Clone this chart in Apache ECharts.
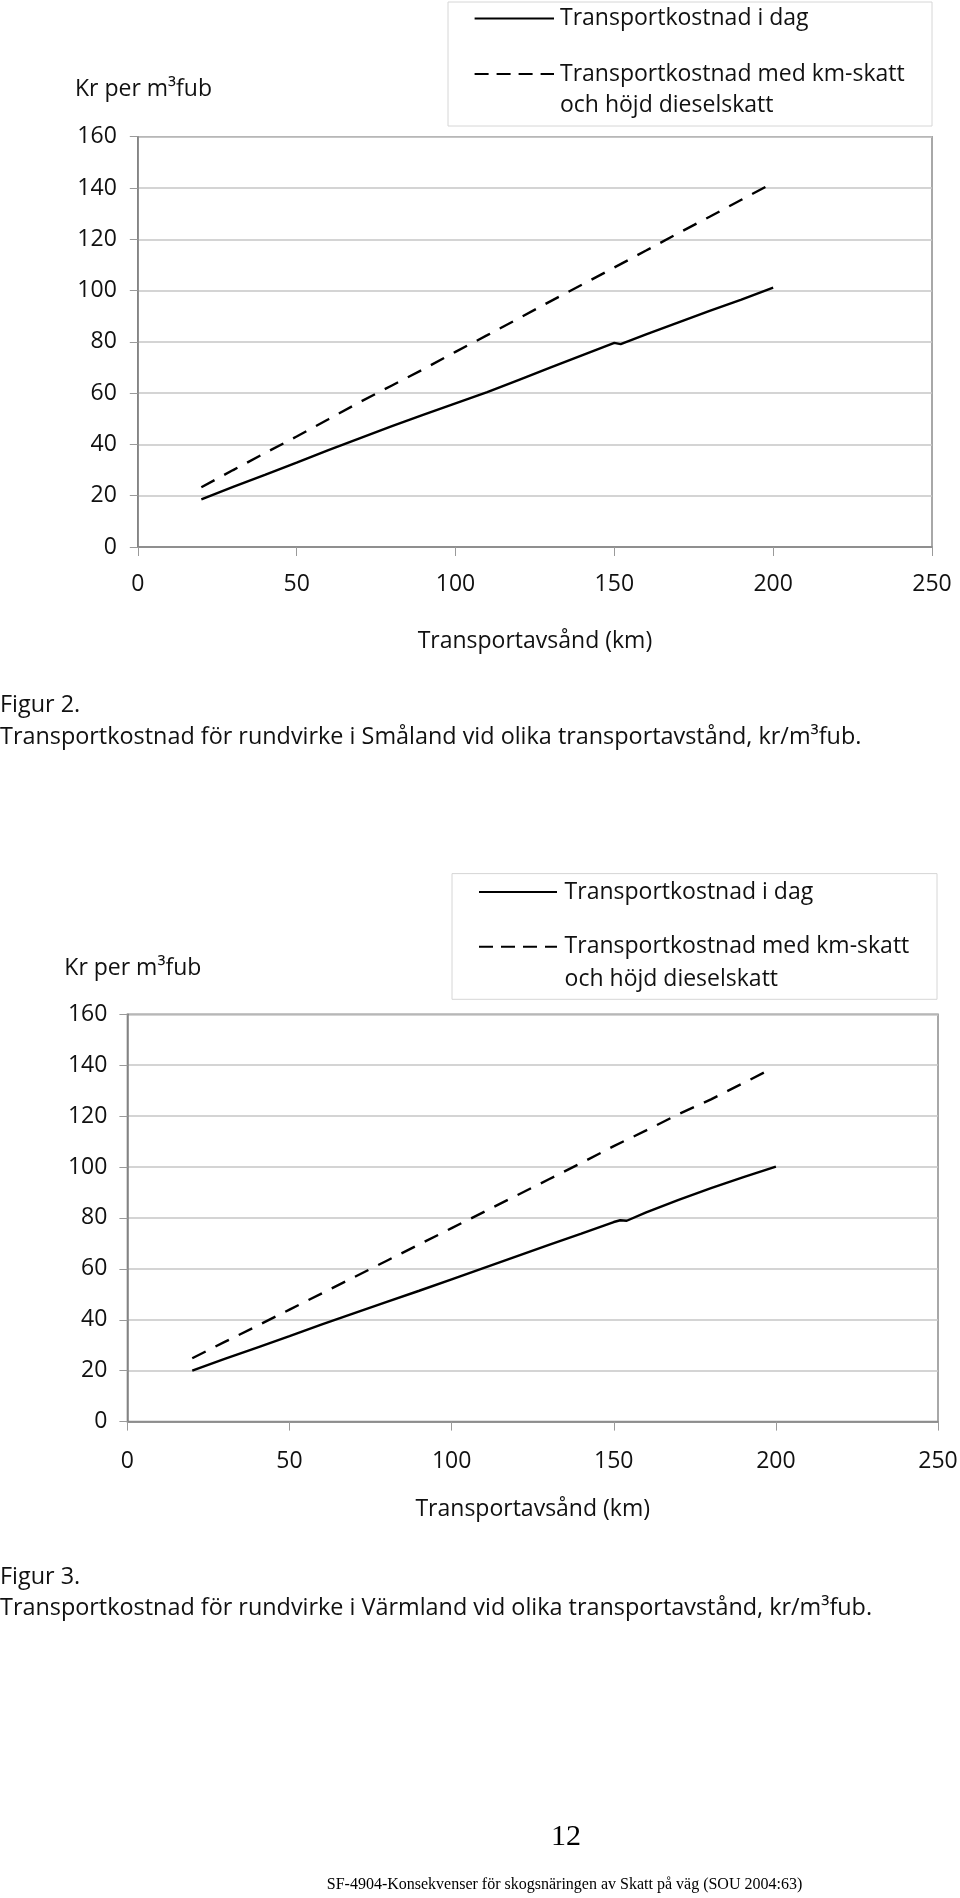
<!DOCTYPE html>
<html>
<head>
<meta charset="utf-8">
<script src="https://cdn.jsdelivr.net/npm/echarts@6/dist/echarts.min.js"></script>
<style>
  html, body { margin: 0; padding: 0; background: #fff; }
  #chart { width: 960px; height: 1898px; }
</style>
</head>
<body>
<div id="chart"></div>
<script>
// ---------- DATA ----------
// Axis ticks
const xTicks = [0, 50, 100, 150, 200, 250];
const yTicks = [0, 20, 40, 60, 80, 100, 120, 140, 160];

// Figur 2 – Småland
const kmSmaSolid = [20, 30, 40, 50, 60, 70, 80, 90, 100, 110, 120, 130, 140, 150, 152, 160, 170, 180, 190, 200];
const smaIdag   = [18.6, 23.4, 28.1, 32.9, 37.8, 42.5, 47.1, 51.6, 56.0, 60.4, 65.2, 70.0, 74.8, 79.6, 79.1, 82.9, 87.5, 92.1, 96.5, 101.1];
const kmSmaDash = [20, 30, 40, 50, 60, 70, 80, 90, 100, 110, 120, 130, 140, 150, 160, 170, 180, 190, 200];
const smaKmskatt = [23.3, 30.0, 36.6, 43.1, 49.8, 56.6, 63.0, 69.4, 76.1, 82.6, 89.2, 95.9, 102.4, 109.0, 115.6, 122.3, 128.8, 135.4, 142.0];

// Figur 3 – Värmland
const kmVarSolid = [20, 30, 40, 50, 60, 70, 80, 90, 100, 110, 120, 130, 140, 150, 152, 154, 160, 170, 180, 190, 200];
const varIdag    = [20.0, 24.6, 29.1, 33.6, 38.2, 42.6, 47.0, 51.4, 55.9, 60.4, 64.9, 69.4, 73.8, 78.4, 79.1, 78.9, 82.2, 87.1, 91.7, 96.0, 100.2];
const kmVarDash  = [20, 30, 40, 50, 60, 70, 80, 90, 100, 110, 120, 130, 140, 150, 160, 170, 180, 190, 198];
const varKmskatt = [24.9, 31.3, 37.6, 44.0, 50.4, 56.8, 63.2, 69.6, 76.0, 82.4, 88.8, 95.2, 101.6, 108.2, 114.4, 120.8, 126.6, 133.0, 138.2];

// Texts
const seriesNames = ['Transportkostnad i dag', 'Transportkostnad med km-skatt\noch höjd dieselskatt'];
const yName = 'Kr per m³fub';
const xName = 'Transportavsånd (km)';
const captions = [
  ['Figur 2.', 'Transportkostnad för rundvirke i Småland vid olika transportavstånd, kr/m³fub.'],
  ['Figur 3.', 'Transportkostnad för rundvirke i Värmland vid olika transportavstånd, kr/m³fub.']
];
const pageNo = '12';
const footer = 'SF-4904-Konsekvenser för skogsnäringen av Skatt på väg (SOU 2004:63)';

// ---------- STYLE ----------
const FONT = "'Open Sans', 'Noto Sans', sans-serif";
const FS = 23;
const CAP_FS = 23.4;
const TXT = '#111';
const pair = (xs, ys) => xs.map((x, i) => [x, ys[i]]);

const grids = [
  { left: 137.8, top: 136.7, width: 794.2, height: 410.3 },
  { left: 127.4, top: 1014.3, width: 810.6, height: 407.3 }
];
const labelMargin = [26, 28];
const nameGaps = [82.5, 76];

function xAxis(i) {
  return {
    type: 'value', gridIndex: i, min: xTicks[0], max: xTicks[xTicks.length - 1], interval: 50,
    name: xName, nameLocation: 'middle', nameGap: nameGaps[i],
    nameTextStyle: { fontFamily: FONT, fontSize: FS, color: TXT },
    axisLine: { show: true, lineStyle: { color: '#808080', width: 1.5 } },
    axisTick: { show: true, inside: false, length: 9, lineStyle: { color: '#9a9a9a', width: 1 } },
    axisLabel: { fontFamily: FONT, fontSize: FS, color: TXT, margin: labelMargin[i] },
    splitLine: { show: false }
  };
}
function yAxis(i) {
  return {
    type: 'value', gridIndex: i, min: yTicks[0], max: yTicks[yTicks.length - 1], interval: 20,
    axisLine: { show: true, lineStyle: { color: '#808080', width: 1.5 } },
    axisTick: { show: true, inside: false, length: 8, lineStyle: { color: '#9a9a9a', width: 1 } },
    axisLabel: { fontFamily: FONT, fontSize: FS, color: TXT, margin: i === 0 ? 21 : 20 },
    splitLine: { show: true, lineStyle: { color: '#c6c6c6', width: 1.5 } }
  };
}
function solid(name, i, data) {
  return { type: 'line', name, xAxisIndex: i, yAxisIndex: i, data, symbol: 'none', silent: true,
    lineStyle: { color: '#000', width: 2.4, type: 'solid' } };
}
function dashed(name, i, data) {
  return { type: 'line', name, xAxisIndex: i, yAxisIndex: i, data, symbol: 'none', silent: true,
    lineStyle: { color: '#000', width: 2.4, type: [15, 11] } };
}

// legend boxes (graphic)
function legendGraphic(box, l1y, l2y, l3y, lineX1, lineX2, textX) {
  return [
    { type: 'rect', shape: { x: box[0], y: box[1], width: box[2] - box[0], height: box[3] - box[1] },
      style: { fill: '#fff', stroke: '#d6d6d6', lineWidth: 1 } },
    { type: 'line', shape: { x1: lineX1, y1: l1y, x2: lineX2, y2: l1y }, style: { stroke: '#000', lineWidth: 2 } },
    { type: 'text', x: textX, y: l1y, style: { text: seriesNames[0], fontFamily: FONT, fontSize: FS, fill: TXT, align: 'left', verticalAlign: 'middle' } },
    { type: 'line', shape: { x1: lineX1, y1: l2y, x2: lineX2, y2: l2y }, style: { stroke: '#000', lineWidth: 2, lineDash: [14, 8] } },
    { type: 'text', x: textX, y: l2y, style: { text: seriesNames[1].split('\n')[0], fontFamily: FONT, fontSize: FS, fill: TXT, align: 'left', verticalAlign: 'middle' } },
    { type: 'text', x: textX, y: l3y, style: { text: seriesNames[1].split('\n')[1], fontFamily: FONT, fontSize: FS, fill: TXT, align: 'left', verticalAlign: 'middle' } }
  ];
}
function txt(x, y, text, opts) {
  return { type: 'text', x, y, style: Object.assign({ text, fontFamily: FONT, fontSize: FS, fill: TXT, align: 'left', verticalAlign: 'middle' }, opts || {}) };
}

const graphic = [].concat(
  legendGraphic([448, 2, 932, 126], 18.6, 74, 105.5, 474.6, 554, 560),
  legendGraphic([452, 873.6, 937, 999.3], 892, 946.8, 979.3, 479, 557, 564.6),
  [
    txt(75, 89.5, yName),
    txt(64.3, 968, yName),
    txt(0, 705.5, captions[0][0], { fontSize: CAP_FS }),
    txt(0, 737, captions[0][1], { fontSize: CAP_FS }),
    txt(0, 1577, captions[1][0], { fontSize: CAP_FS }),
    txt(0, 1608.5, captions[1][1], { fontSize: CAP_FS }),
    txt(566, 1837.5, pageNo, { fontFamily: "'Liberation Serif', serif", fontSize: 30, align: 'center', fill: '#000' }),
    txt(564.5, 1885, footer, { fontFamily: "'Liberation Serif', serif", fontSize: 16, align: 'center', fill: '#000' })
  ]
);

const chart = echarts.init(document.getElementById('chart'), null, { renderer: 'canvas' });
chart.setOption({
  animation: false,
  backgroundColor: '#fff',
  grid: grids.map(g => Object.assign({ show: true, borderColor: '#8c8c8c', borderWidth: 1.5, backgroundColor: 'transparent', containLabel: false, outerBoundsMode: 'none' }, g)),
  xAxis: [xAxis(0), xAxis(1)],
  yAxis: [yAxis(0), yAxis(1)],
  series: [
    solid(seriesNames[0], 0, pair(kmSmaSolid, smaIdag)),
    dashed(seriesNames[1], 0, pair(kmSmaDash, smaKmskatt)),
    solid(seriesNames[0], 1, pair(kmVarSolid, varIdag)),
    dashed(seriesNames[1], 1, pair(kmVarDash, varKmskatt))
  ],
  graphic: graphic
});
</script>
</body>
</html>
